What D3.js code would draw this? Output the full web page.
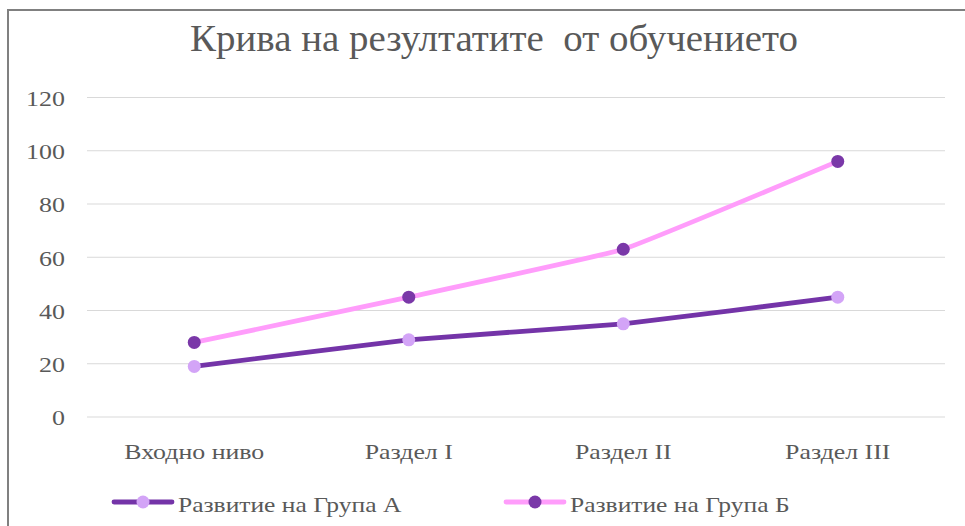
<!DOCTYPE html>
<html><head><meta charset="utf-8">
<script src="https://cdn.jsdelivr.net/npm/d3@7"></script>
<style>
body{margin:0;background:#fff;}
text{font-family:"Liberation Serif","Times New Roman",serif;fill:#595959;}
</style></head>
<body><svg id="c" width="965" height="526"></svg>
<script>
const title = "Крива на резултатите  от обучението";
const categories = ["Входно ниво","Раздел I","Раздел II","Раздел III"];
const seriesNames = ["Развитие на Група А","Развитие на Група Б"];
const groupA = [19, 29, 35, 45];
const groupB = [28, 45, 63, 96];
const yTicks = [0,20,40,60,80,100,120];

const svg = d3.select("#c");
function stretch(sel, f){
  sel.each(function(){
    const w = this.getComputedTextLength();
    d3.select(this).attr("textLength", w*f).attr("lengthAdjust","spacingAndGlyphs");
  });
}
// frame (top and left edges visible)
svg.append("line").attr("x1",8).attr("x2",965).attr("y1",10).attr("y2",10).attr("stroke","#808080").attr("stroke-width",2);
svg.append("line").attr("x1",8).attr("x2",8).attr("y1",9).attr("y2",526).attr("stroke","#808080").attr("stroke-width",2);

const x = d3.scaleBand().domain(categories).range([87,945]);
const y = d3.scaleLinear().domain([0,120]).range([417,97.5]);

// gridlines
svg.append("g").selectAll("line").data(yTicks).join("line")
  .attr("x1",87).attr("x2",945).attr("y1",d=>y(d)).attr("y2",d=>y(d))
  .attr("stroke","#d9d9d9").attr("stroke-width",1);

// y axis
const ya = svg.append("g").attr("transform","translate(65,0)")
  .call(d3.axisLeft(y).tickValues(yTicks).tickSize(0).tickPadding(0));
ya.select(".domain").remove();
ya.selectAll("text").attr("font-size",22).attr("fill","#595959").attr("dy","0.36em")
  .attr("font-family","Liberation Serif").call(stretch,1.18);

// x axis
const xa = svg.append("g").attr("transform","translate(0,459)")
  .call(d3.axisBottom(x).tickSize(0).tickPadding(0));
xa.select(".domain").remove();
xa.selectAll("text").attr("font-size",21).attr("fill","#595959").attr("dy",0)
  .attr("font-family","Liberation Serif").call(stretch,1.23);

const series = [
  {name:seriesNames[0], vals:groupA, line:"#7434a8", mark:"#d3a4f7"},
  {name:seriesNames[1], vals:groupB, line:"#ff9dfb", mark:"#7a38a8"}
];
const cx = c => x(c)+x.bandwidth()/2;
const lineGen = d3.line().x(d=>cx(d.c)).y(d=>y(d.v)).curve(d3.curveCardinal.tension(0.72));

series.forEach(s=>{
  const pts = categories.map((c,i)=>({c, v:s.vals[i]}));
  svg.append("path").datum(pts).attr("d",lineGen).attr("fill","none")
    .attr("stroke",s.line).attr("stroke-width",4.8).attr("stroke-linecap","round");
  svg.append("g").selectAll("circle").data(pts).join("circle")
    .attr("cx",d=>cx(d.c)).attr("cy",d=>y(d.v)).attr("r",6.5).attr("fill",s.mark);
});

// title
svg.append("text").attr("x",494).attr("y",51).attr("text-anchor","middle")
  .style("white-space","pre")
  .attr("font-size",38).attr("fill","#595959").text(title)
  .attr("textLength",608).attr("lengthAdjust","spacingAndGlyphs");

// legend
const legX = [114, 506];
series.forEach((s,i)=>{
  const g = svg.append("g");
  g.append("line").attr("x1",legX[i]).attr("x2",legX[i]+58).attr("y1",502).attr("y2",502)
    .attr("stroke",s.line).attr("stroke-width",4.8).attr("stroke-linecap","round");
  g.append("circle").attr("cx",legX[i]+29).attr("cy",502).attr("r",6.5).attr("fill",s.mark);
  g.append("text").attr("x",legX[i]+64).attr("y",512).attr("font-size",22).text(s.name).call(stretch,1.16);
});
</script></body></html>
